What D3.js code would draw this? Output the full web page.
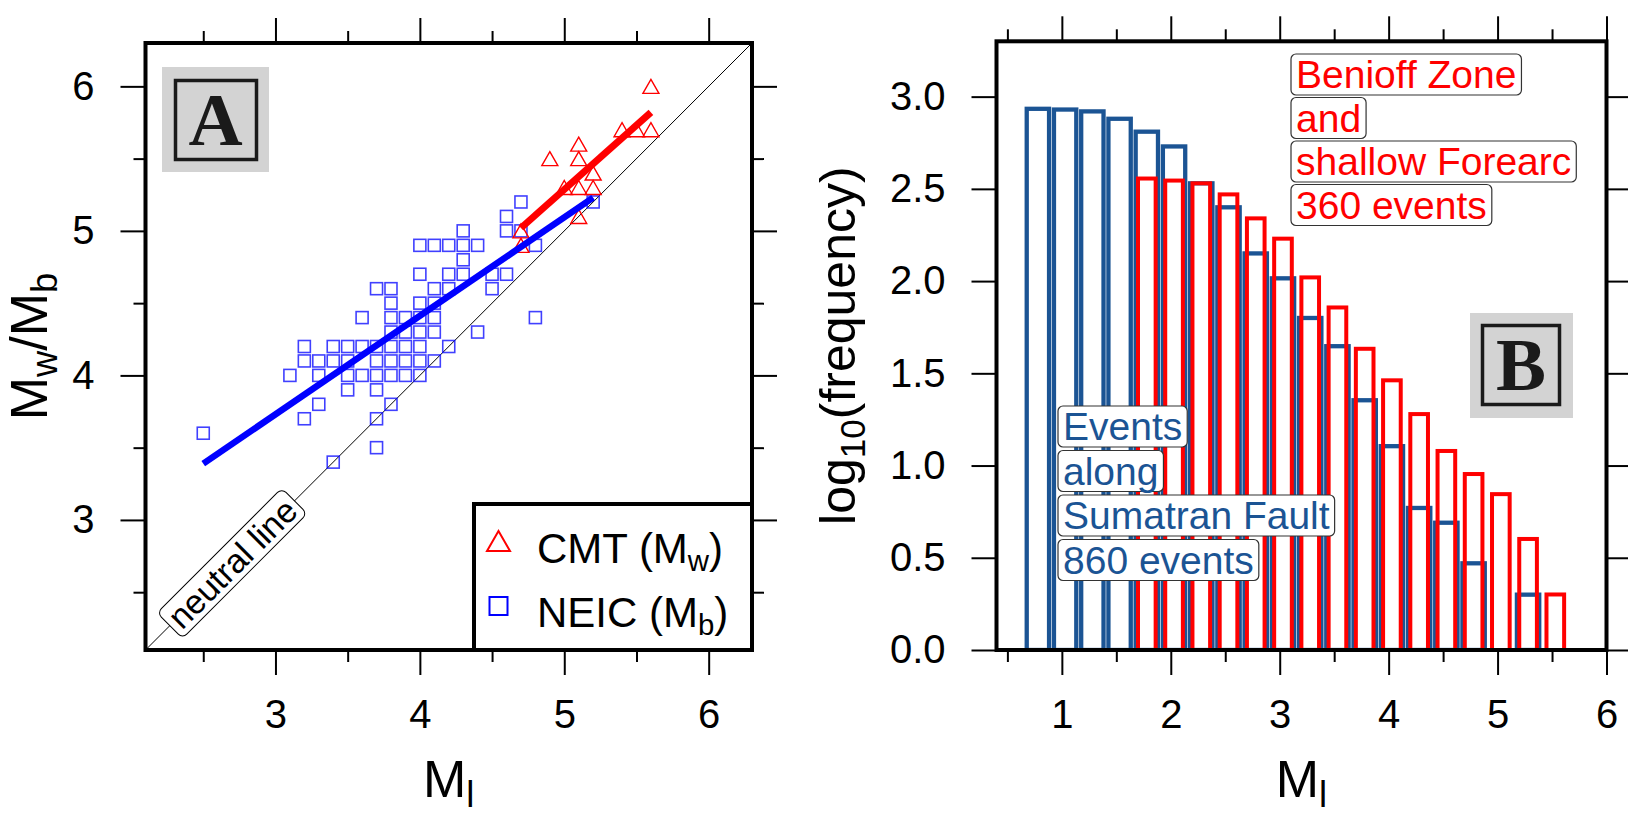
<!DOCTYPE html>
<html><head><meta charset="utf-8">
<script src="https://cdn.jsdelivr.net/npm/d3@7"></script>
<style>body{margin:0;background:#fff}</style>
</head><body>
<svg id="c" width="1628" height="814" xmlns="http://www.w3.org/2000/svg"></svg>
<script>
// ---------------- DATA ----------------
// Panel A : NEIC (Mb) vs local magnitude
const neicMl = [4.7,5.2, 4.6, 4.3,4.6,4.7, 4.0,4.1,4.2,4.3,4.4,4.8, 4.3, 4.0,4.2,4.3,4.5,4.6,
  3.7,3.8,4.1,4.2,4.5, 3.8,4.0,4.1, 3.6,3.8,3.9,4.0,4.1,4.8, 3.8,3.9,4.0,4.1,4.4,
  3.2,3.4,3.5,3.6,3.7,3.8,3.9,4.0,4.2, 3.2,3.3,3.4,3.5,3.7,3.8,3.9,4.0,4.1,
  3.1,3.3,3.5,3.6,3.7,3.8,3.9,4.0, 3.5,3.7, 3.3,3.8, 3.2,3.7, 2.5, 3.7, 3.4];
const neicMb = [5.2,5.2, 5.1, 5.0,5.0,5.0, 4.9,4.9,4.9,4.9,4.9,4.9, 4.8, 4.7,4.7,4.7,4.7,4.7,
  4.6,4.6,4.6,4.6,4.6, 4.5,4.5,4.5, 4.4,4.4,4.4,4.4,4.4,4.4, 4.3,4.3,4.3,4.3,4.3,
  4.2,4.2,4.2,4.2,4.2,4.2,4.2,4.2,4.2, 4.1,4.1,4.1,4.1,4.1,4.1,4.1,4.1,4.1,
  4.0,4.0,4.0,4.0,4.0,4.0,4.0,4.0, 3.9,3.9, 3.8,3.8, 3.7,3.7, 3.6, 3.5, 3.4];
// Panel A : CMT (Mw) vs local magnitude
const cmtMl = [4.7,4.7,4.9,5.0,5.1,5.1,5.1,5.1,5.2,5.2,5.4,5.5,5.6,5.6];
const cmtMw = [4.9,5.0,5.5,5.3,5.1,5.3,5.5,5.6,5.3,5.4,5.7,5.7,5.7,6.0];
// fitted lines (end points)
const neicFitMl = [2.5, 5.2];
const neicFitMb = [3.39, 5.23];
const cmtFitMl = [4.7, 5.6];
const cmtFitMw = [5.02, 5.82];
const neutralLine = [2.1, 6.3];
const aTicks = [3, 4, 5, 6];
const aMinor = [2.5, 3.5, 4.5, 5.5];
const legendLabels = [["CMT (M","w",")"], ["NEIC (M","b",")"]];

// Panel B : log10 cumulative frequency
const sumatraMl = [0.78,1.03,1.28,1.53,1.78,2.03,2.28,2.53,2.78,3.03,3.28,3.53,3.78,4.03,4.28,4.53,4.78,5.03,5.28];
const sumatraLogN = [2.934,2.93,2.92,2.88,2.81,2.73,2.53,2.40,2.15,2.015,1.80,1.647,1.354,1.105,0.77,0.69,0.47,0,0.30];
const benioffMl = [1.78,2.03,2.28,2.53,2.78,3.03,3.28,3.53,3.78,4.03,4.28,4.53,4.78,5.03,5.28,5.53];
const benioffLogN = [2.556,2.545,2.53,2.47,2.34,2.23,2.02,1.857,1.633,1.462,1.279,1.079,0.954,0.845,0.602,0.301];
const bXTicks = [1, 2, 3, 4, 5, 6];
const bXMinor = [0.5, 1.5, 2.5, 3.5, 4.5, 5.5];
const bYTicks = [0, 0.5, 1.0, 1.5, 2.0, 2.5, 3.0];
const sumatraText = ["Events", "along", "Sumatran Fault", "860 events"];
const benioffText = ["Benioff Zone", "and", "shallow Forearc", "360 events"];

// ---------------- DRAW ----------------
const FONT = "'Liberation Sans', Arial, Helvetica, sans-serif";
const SERIF = "'Liberation Serif', 'Times New Roman', serif";
const RED = "#ff0000", BLUE = "#0000ff", DBLUE = "#1b5494";
const svg = d3.select("#c");
svg.append("rect").attr("width",1628).attr("height",814).attr("fill","#fff");

function styleAxis(g){
  g.select(".domain").remove();
  g.selectAll(".tick line").attr("stroke","#000").attr("stroke-width",2);
  g.selectAll(".tick text").attr("font-family",FONT).attr("font-size",40).attr("fill","#000");
}
function frameAxes(x, y, major, minor, yMajor, yMinor, yFmt){
  const [x0,x1] = x.range(), [y0,y1] = y.range();
  const sets = [[major,25,true],[minor,12,false]];
  sets.forEach(([vals,len,lab])=>{
    const gb = svg.append("g").attr("transform",`translate(0,${y0})`)
      .call(d3.axisBottom(x).tickValues(vals).tickSize(len).tickPadding(25).tickFormat(lab?d3.format("d"):""));
    styleAxis(gb);
    const gt = svg.append("g").attr("transform",`translate(0,${y1})`)
      .call(d3.axisTop(x).tickValues(vals).tickSize(len).tickFormat(""));
    styleAxis(gt);
  });
  const ysets = [[yMajor,25,true],[yMinor,12,false]];
  ysets.forEach(([vals,len,lab])=>{
    if(!vals.length) return;
    const gl = svg.append("g").attr("transform",`translate(${x0},0)`)
      .call(d3.axisLeft(y).tickValues(vals).tickSize(len).tickPadding(26).tickFormat(lab?yFmt:""));
    styleAxis(gl);
    const gr = svg.append("g").attr("transform",`translate(${x1},0)`)
      .call(d3.axisRight(y).tickValues(vals).tickSize(len).tickFormat(""));
    styleAxis(gr);
  });
}
function frame(x, y){
  const [x0,x1] = x.range(), [y0,y1] = y.range();
  svg.append("rect").attr("x",x0).attr("y",y1).attr("width",x1-x0).attr("height",y0-y1)
    .attr("fill","none").attr("stroke","#000").attr("stroke-width",4);
}
function subText(sel, parts, fs){
  const sh = fs*0.2;
  parts.forEach((p,i)=>{
    const isSub = i%2===1;
    const t = sel.append("tspan").text(p);
    if(isSub){ t.attr("font-size",fs*0.7).attr("dy",sh); }
    else if(i>0){ t.attr("dy",-sh); }
  });
}
function panelLabel(letter, gx, gy, gw, gh, ix, iy, iw, ih, tx, ty){
  svg.append("rect").attr("x",gx).attr("y",gy).attr("width",gw).attr("height",gh).attr("fill","#d3d3d3");
  svg.append("rect").attr("x",ix).attr("y",iy).attr("width",iw).attr("height",ih)
    .attr("fill","none").attr("stroke","#1a1a1a").attr("stroke-width",3.5);
  svg.append("text").attr("x",tx).attr("y",ty).attr("text-anchor","middle")
    .attr("font-family",SERIF).attr("font-weight","bold").attr("font-size",75).attr("fill","#1a1a1a").text(letter);
}

// ---------- Panel A ----------
const xa = d3.scaleLinear().domain([2.1,6.3]).range([145.5,752]);
const ya = d3.scaleLinear().domain([2.1,6.3]).range([650,43]);
svg.append("clipPath").attr("id","clipA").append("rect")
  .attr("x",145.5).attr("y",43).attr("width",752-145.5).attr("height",650-43);
const gA = svg.append("g").attr("clip-path","url(#clipA)");

gA.append("line").attr("x1",xa(neutralLine[0])).attr("y1",ya(neutralLine[0]))
  .attr("x2",xa(neutralLine[1])).attr("y2",ya(neutralLine[1]))
  .attr("stroke","#000").attr("stroke-width",1);

const sq = 12;
gA.selectAll("rect.neic").data(neicMl.map((m,i)=>[m,neicMb[i]])).join("rect")
  .attr("class","neic").attr("x",d=>xa(d[0])-sq/2).attr("y",d=>ya(d[1])-sq/2)
  .attr("width",sq).attr("height",sq).attr("fill","none")
  .attr("stroke",BLUE).attr("stroke-opacity",0.75).attr("stroke-width",1.6);
gA.selectAll("path.cmt").data(cmtMl.map((m,i)=>[m,cmtMw[i]])).join("path")
  .attr("class","cmt").attr("transform",d=>`translate(${xa(d[0])},${ya(d[1])})`)
  .attr("d","M0,-7L8,7L-8,7Z").attr("fill","none").attr("stroke",RED).attr("stroke-width",1.4);

gA.append("line").attr("x1",xa(neicFitMl[0])).attr("y1",ya(neicFitMb[0]))
  .attr("x2",xa(neicFitMl[1])).attr("y2",ya(neicFitMb[1]))
  .attr("stroke",BLUE).attr("stroke-width",6.5);
gA.append("line").attr("x1",xa(cmtFitMl[0])).attr("y1",ya(cmtFitMw[0]))
  .attr("x2",xa(cmtFitMl[1])).attr("y2",ya(cmtFitMw[1]))
  .attr("stroke",RED).attr("stroke-width",7);

(function(){
  const m = 2.7, fs = 34;
  const cx = xa(m), cy = ya(m);
  const g = svg.append("g").attr("transform",`translate(${cx},${cy}) rotate(-45)`);
  const t = g.append("text").attr("text-anchor","middle").attr("dy",fs*0.36)
    .attr("font-family",FONT).attr("font-size",fs).attr("fill","#000").text("neutral line");
  const w = t.node().getComputedTextLength() + 10, h = 36;
  g.insert("rect","text").attr("x",-w/2).attr("y",-h/2).attr("width",w).attr("height",h)
    .attr("rx",6).attr("fill","#fff").attr("stroke","#000").attr("stroke-width",1);
})();

(function(){
  const lx = 474, ly = 504, fs = 42;
  svg.append("rect").attr("x",lx).attr("y",ly).attr("width",752-lx).attr("height",650-ly)
    .attr("fill","#fff").attr("stroke","#000").attr("stroke-width",4);
  svg.append("path").attr("transform",`translate(${lx+24.5},${ly+37})`).attr("d","M0,-10L11.5,10L-11.5,10Z")
    .attr("fill","none").attr("stroke",RED).attr("stroke-width",2);
  svg.append("rect").attr("x",lx+24.5-9).attr("y",ly+102-9).attr("width",18).attr("height",18)
    .attr("fill","none").attr("stroke",BLUE).attr("stroke-width",2);
  [ly+59, ly+123].forEach((b,i)=>{
    const t = svg.append("text").attr("x",lx+63).attr("y",b).attr("font-family",FONT)
      .attr("font-size",fs).attr("fill","#000");
    subText(t, legendLabels[i], fs);
  });
})();

panelLabel("A", 162, 67, 107, 105, 175.5, 80.5, 81, 79, 215.5, 145);
frameAxes(xa, ya, aTicks, aMinor, aTicks, aMinor, d3.format("d"));
frame(xa, ya);

(function(){
  const fs = 52;
  const t = svg.append("text").attr("x",(145.5+752)/2).attr("y",797).attr("text-anchor","middle")
    .attr("font-family",FONT).attr("font-size",fs).attr("fill","#000");
  subText(t, ["M","l"], fs);
  const ty = svg.append("text").attr("transform",`translate(47,${(43+650)/2}) rotate(-90)`)
    .attr("text-anchor","middle").attr("font-family",FONT).attr("font-size",fs).attr("fill","#000");
  subText(ty, ["M","w","/M","b",""], fs);
})();

// ---------- Panel B ----------
const xb = d3.scaleLinear().domain([0.4,6.0]).range([996.5,1606.5]);
const yb = d3.scaleLinear().domain([0,3.3]).range([650,41.3]);
svg.append("clipPath").attr("id","clipB").append("rect")
  .attr("x",996.5).attr("y",41.3).attr("width",1606.5-996.5).attr("height",650-41.3);
const gB = svg.append("g").attr("clip-path","url(#clipB)");
const wBlue = xb(0.205)-xb(0), wRed = xb(0.162)-xb(0);
gB.selectAll("rect.sum").data(sumatraMl.map((m,i)=>[m,sumatraLogN[i]])).join("rect")
  .attr("class","sum").attr("x",d=>xb(d[0])-wBlue/2).attr("y",d=>yb(d[1]))
  .attr("width",wBlue).attr("height",d=>yb(0)-yb(d[1]))
  .attr("fill","none").attr("stroke",DBLUE).attr("stroke-width",4.3);
gB.selectAll("rect.ben").data(benioffMl.map((m,i)=>[m,benioffLogN[i]])).join("rect")
  .attr("class","ben").attr("x",d=>xb(d[0])-wRed/2).attr("y",d=>yb(d[1]))
  .attr("width",wRed).attr("height",d=>yb(0)-yb(d[1]))
  .attr("fill","none").attr("stroke",RED).attr("stroke-width",4);

function boxLines(lines, x0, top0, step, color){
  const fs = 39;
  lines.forEach((s,i)=>{
    const top = top0 + i*step;
    const g = svg.append("g");
    const t = g.append("text").attr("x",x0+5).attr("y",top+34).attr("font-family",FONT)
      .attr("font-size",fs).attr("fill",color).text(s);
    const w = t.node().getComputedTextLength();
    g.insert("rect","text").attr("x",x0).attr("y",top).attr("width",w+10).attr("height",41)
      .attr("rx",5).attr("fill","#fff").attr("stroke","#333").attr("stroke-width",1.2);
  });
}
boxLines(benioffText, 1291, 54, 43.5, RED);
boxLines(sumatraText, 1058, 406, 44.5, DBLUE);

panelLabel("B", 1470, 313, 103, 105, 1482.5, 325.5, 77, 79, 1521, 390);
frameAxes(xb, yb, bXTicks, bXMinor, bYTicks, [], d3.format(".1f"));
frame(xb, yb);

(function(){
  const fs = 52;
  const t = svg.append("text").attr("x",(996.5+1606.5)/2).attr("y",797).attr("text-anchor","middle")
    .attr("font-family",FONT).attr("font-size",fs).attr("fill","#000");
  subText(t, ["M","l"], fs);
  const fs2 = 50;
  const ty = svg.append("text").attr("transform",`translate(855,${(41.3+650)/2}) rotate(-90)`)
    .attr("text-anchor","middle").attr("font-family",FONT).attr("font-size",fs2).attr("fill","#000");
  subText(ty, ["log","10","(frequency)"], fs2);
})();
</script>
</body></html>
